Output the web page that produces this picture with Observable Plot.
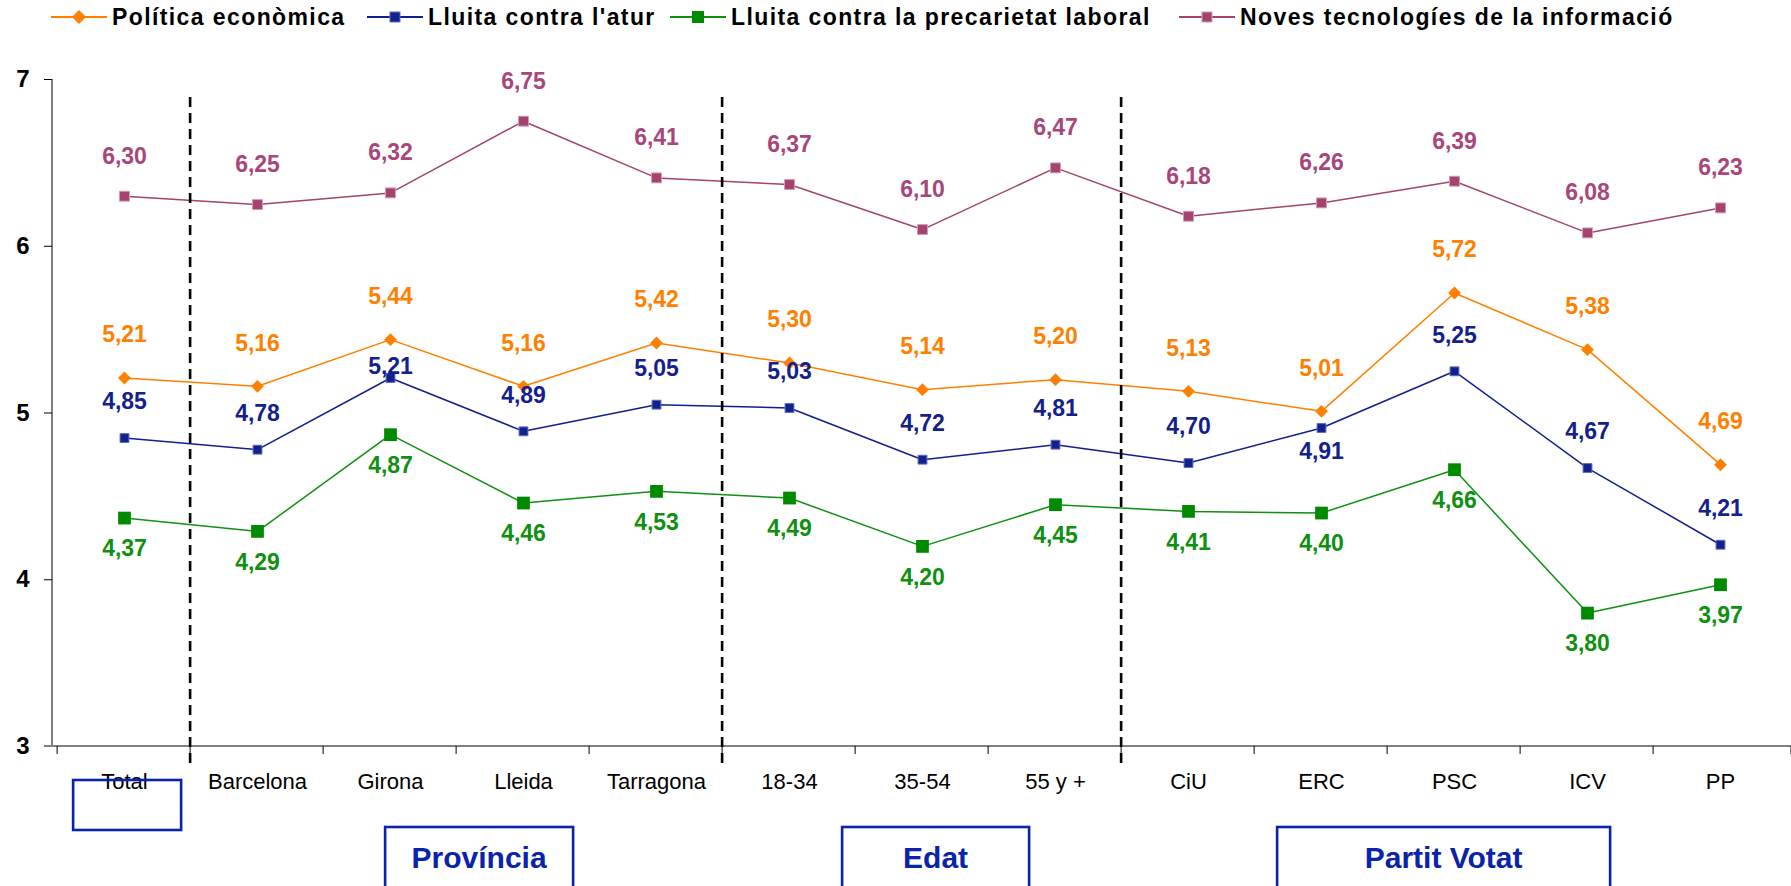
<!DOCTYPE html>
<html>
<head>
<meta charset="utf-8">
<script src="https://cdn.jsdelivr.net/npm/d3@7"></script>
<script src="https://cdn.jsdelivr.net/npm/@observablehq/plot@0.6"></script>
<style>
  html, body { margin: 0; padding: 0; background: #fff; overflow: hidden; }
  #legend { position: relative; height: 36px; width: 1791px; font-family: 'Liberation Sans', Arial, sans-serif; font-weight: bold; font-size: 23px; letter-spacing: 1.4px; color: #000; }
  .item { position: absolute; top: 0; height: 34px; display: flex; align-items: center; white-space: nowrap; }
  .item svg { margin-right: 5px; }
</style>
</head>
<body>
<div id="legend"></div>
<div id="chart"></div>
<script>
// ---- data ----
const categories = ["Total", "Barcelona", "Girona", "Lleida", "Tarragona", "18-34", "35-54", "55 y +", "CiU", "ERC", "PSC", "ICV", "PP"];
const groups = ["", "Província", "Província", "Província", "Província", "Edat", "Edat", "Edat", "Partit Votat", "Partit Votat", "Partit Votat", "Partit Votat", "Partit Votat"];
const seriesNames = ["Política econòmica", "Lluita contra l'atur", "Lluita contra la precarietat laboral", "Noves tecnologíes de la informació"];
const politica = [5.21, 5.16, 5.44, 5.16, 5.42, 5.30, 5.14, 5.20, 5.13, 5.01, 5.72, 5.38, 4.69];
const atur = [4.85, 4.78, 5.21, 4.89, 5.05, 5.03, 4.72, 4.81, 4.70, 4.91, 5.25, 4.67, 4.21];
const precarietat = [4.37, 4.29, 4.87, 4.46, 4.53, 4.49, 4.20, 4.45, 4.41, 4.40, 4.66, 3.80, 3.97];
const tecnologies = [6.30, 6.25, 6.32, 6.75, 6.41, 6.37, 6.10, 6.47, 6.18, 6.26, 6.39, 6.08, 6.23];
const yTicks = [3, 4, 5, 6, 7];

// ---- styles ----
const FONT = "'Liberation Sans', Arial, sans-serif";
const styles = [
  {line: "#FF8000", fill: "#FF8000", label: "#FF8000", symbol: "diamond2", r: 5.8, stroke: "none", dy: -43, exceptions: {}},
  {line: "#10208C", fill: "#14218C", label: "#14218C", symbol: "square", r: 5, stroke: "#5C6CC4", dy: -36, exceptions: {"Girona": -11, "ERC": 24}},
  {line: "#109010", fill: "#008A00", label: "#109010", symbol: "square", r: 7.2, stroke: "none", dy: 31, exceptions: {}},
  {line: "#A3446F", fill: "#A3446F", label: "#A8467A", symbol: "square", r: 5.6, stroke: "#D49AB4", dy: -40, exceptions: {}}
];
const legendLeft = [51, 367, 670, 1179];
const boxColor = "#0A23AA";
const boxLayout = {
  "": {dx: 16, w: 108, top: 34, h: 50},
  "Província": {dx: 195, w: 188, top: 81},
  "Edat": {dx: 120, w: 187, top: 81},
  "Partit Votat": {dx: 156, w: 333, top: 81}
};

const valuesBySeries = [politica, atur, precarietat, tecnologies];
const rows = [];
seriesNames.forEach((s, si) => categories.forEach((c, i) => rows.push({series: s, si, cat: c, value: valuesBySeries[si][i]})));
const fmt = v => d3.format(".2f")(v).replace(".", ",");

// ---- legend ----
const legend = document.getElementById("legend");
seriesNames.forEach((name, si) => {
  const st = styles[si];
  const item = document.createElement("div");
  item.className = "item";
  item.style.left = legendLeft[si] + "px";
  let marker;
  if (st.symbol === "diamond2") marker = `<path d="M28,8 L35,15 L28,22 L21,15 Z" fill="${st.fill}"/>`;
  else { const s = si === 2 ? 12 : 10; marker = `<rect x="${28 - s/2}" y="${15 - s/2}" width="${s}" height="${s}" fill="${st.fill}" stroke="${st.stroke}"/>`; }
  item.innerHTML = `<svg width="56" height="30"><line x1="0" x2="56" y1="15" y2="15" stroke="${st.line}" stroke-width="2"/>${marker}</svg><span>${name}</span>`;
  legend.appendChild(item);
});

// ---- chart ----
const marks = [];
seriesNames.forEach((s, si) => {
  const st = styles[si];
  const data = rows.filter(d => d.si === si);
  marks.push(Plot.line(data, {x: "cat", y: "value", stroke: st.line, strokeWidth: 1.5}));
});
seriesNames.forEach((s, si) => {
  const st = styles[si];
  const data = rows.filter(d => d.si === si);
  marks.push(Plot.dot(data, {x: "cat", y: "value", symbol: st.symbol, r: st.r, fill: st.fill, stroke: st.stroke, strokeWidth: 1}));
});
seriesNames.forEach((s, si) => {
  const st = styles[si];
  const data = rows.filter(d => d.si === si);
  marks.push(Plot.text(data.filter(d => !(d.cat in st.exceptions)), {x: "cat", y: "value", text: d => fmt(d.value), dy: st.dy, fill: st.label, fontWeight: "bold", fontSize: 23}));
  for (const [cat, dy] of Object.entries(st.exceptions)) {
    marks.push(Plot.text(data.filter(d => d.cat === cat), {x: "cat", y: "value", text: d => fmt(d.value), dy, fill: st.label, fontWeight: "bold", fontSize: 23}));
  }
});
marks.push(Plot.axisY({ticks: yTicks, tickSize: 8, tickPadding: 15, tickFormat: d => String(d), fontSize: 24, fontWeight: "bold", stroke: "#000"}));
marks.push(Plot.axisX({tickSize: 0, tickPadding: 27, fontSize: 22}));

const chart = Plot.plot({
  width: 1791,
  height: 850,
  marginLeft: 52,
  marginRight: 0,
  marginTop: 43,
  marginBottom: 140,
  style: {fontFamily: FONT, fontSize: "22px", color: "#000", background: "#fff", overflow: "visible"},
  x: {type: "point", domain: categories, padding: 0.5, label: null},
  y: {domain: [3, 7], label: null},
  marks
});
document.getElementById("chart").appendChild(chart);

// ---- annotations drawn with the plot's scales ----
const svg = d3.select(chart);
const xs = chart.scale("x"), ys = chart.scale("y");
const x0 = xs.range[0], x1 = xs.range[1];
const step = (x1 - x0) / categories.length;
const bandLeft = i => xs.apply(categories[i]) - step / 2;
const y3 = ys.apply(3), y7 = ys.apply(7);
const g = svg.append("g");
g.append("line").attr("x1", x0).attr("x2", x0).attr("y1", y7).attr("y2", y3).attr("stroke", "#000").attr("stroke-width", 1);
g.append("line").attr("x1", x0 - 8).attr("x2", x1).attr("y1", y3).attr("y2", y3).attr("stroke", "#808080").attr("stroke-width", 2);
for (let i = 0; i <= categories.length; i++) {
  const x = i < categories.length ? bandLeft(i) : x1;
  g.append("line").attr("x1", x).attr("x2", x).attr("y1", y3).attr("y2", y3 + 8).attr("stroke", "#000").attr("stroke-width", 1);
}
// dashed separators between groups
for (let i = 1; i < categories.length; i++) {
  if (groups[i] !== groups[i - 1]) {
    const x = bandLeft(i);
    g.append("line").attr("x1", x).attr("x2", x).attr("y1", y7 + 18).attr("y2", y3 + 19)
      .attr("stroke", "#000").attr("stroke-width", 2.6).attr("stroke-dasharray", "10,6");
  }
}
// group boxes
const seen = new Set();
groups.forEach((grp, i) => {
  if (seen.has(grp)) return;
  seen.add(grp);
  const lay = boxLayout[grp];
  const left = bandLeft(i) + lay.dx;
  const top = y3 + lay.top;
  const h = lay.h || (chart.getAttribute("height") - top + 20);
  g.append("rect").attr("x", left).attr("y", top).attr("width", lay.w).attr("height", h)
    .attr("fill", "none").attr("stroke", boxColor).attr("stroke-width", 2.6);
  if (grp) {
    g.append("text").attr("x", left + lay.w / 2).attr("y", top + 41).attr("text-anchor", "middle")
      .attr("font-family", FONT).attr("font-weight", "bold").attr("font-size", 30).attr("fill", boxColor).text(grp);
  }
});
</script>
</body>
</html>
